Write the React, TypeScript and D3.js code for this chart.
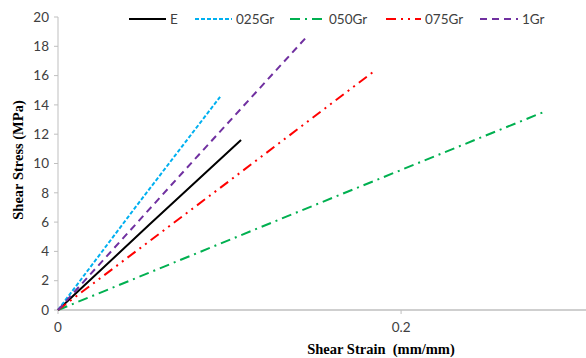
import React, { useEffect, useRef } from "react";
import * as d3 from "d3";

// series values: [strain, stress]
const seriesNames = ["E", "025Gr", "050Gr", "075Gr", "1Gr"];
const eData: [number, number][] = [[0, 0], [0.053, 5.8], [0.1067, 11.6]];
const gr025Data: [number, number][] = [[0, 0], [0.047, 7.3], [0.0945, 14.55]];
const gr050Data: [number, number][] = [[0, 0], [0.141, 6.75], [0.2828, 13.5]];
const gr075Data: [number, number][] = [[0, 0], [0.093, 8.2], [0.1854, 16.4]];
const gr1Data: [number, number][] = [[0, 0], [0.072, 9.3], [0.1446, 18.6]];
const yTicks = [0, 2, 4, 6, 8, 10, 12, 14, 16, 18, 20];
const xTicks = [0, 0.2];

const colors = ["#000000", "#00b0f0", "#00b050", "#ff0000", "#7030a0"];
const dashes = ["none", "4,2", "10,5,2,5", "10,5,2,5,2,5", "7,5"];

function App() {
  const ref = useRef<SVGSVGElement>(null);

  useEffect(() => {
    const svg = d3.select(ref.current);
    svg.selectAll("*").remove();
    const width = 586;
    const height = 358;
    const margin = { top: 17, right: 0, bottom: 48, left: 58 };

    const x = d3.scaleLinear().domain([0, 0.3078]).range([margin.left, 586]);
    const y = d3.scaleLinear().domain([0, 20]).range([height - margin.bottom, margin.top]);

    const tickFont = "Lato, 'Open Sans', sans-serif";
    const titleFont = "'Liberation Serif', 'Times New Roman', serif";
    const axisColor = "#bfbfbf";

    // y axis
    svg.append("line")
      .attr("x1", x(0)).attr("x2", x(0))
      .attr("y1", y(0)).attr("y2", y(20))
      .attr("stroke", axisColor).attr("stroke-width", 1);
    svg.selectAll(".ytick")
      .data(yTicks)
      .enter()
      .append("line")
      .attr("x1", x(0) - 4).attr("x2", x(0))
      .attr("y1", (d) => y(d)).attr("y2", (d) => y(d))
      .attr("stroke", axisColor);
    svg.selectAll(".ylab")
      .data(yTicks)
      .enter()
      .append("text")
      .attr("x", x(0) - 9)
      .attr("y", (d) => y(d))
      .attr("dy", "0.35em")
      .attr("text-anchor", "end")
      .attr("font-family", tickFont)
      .attr("font-size", 13.5)
      .attr("fill", "#404040")
      .text((d) => d);

    // x axis
    svg.append("line")
      .attr("x1", x(0)).attr("x2", width)
      .attr("y1", y(0)).attr("y2", y(0))
      .attr("stroke", axisColor).attr("stroke-width", 1.5);
    svg.selectAll(".xtick")
      .data(xTicks)
      .enter()
      .append("line")
      .attr("x1", (d) => x(d)).attr("x2", (d) => x(d))
      .attr("y1", y(0)).attr("y2", y(0) + 4)
      .attr("stroke", axisColor);
    svg.selectAll(".xlab")
      .data(xTicks)
      .enter()
      .append("text")
      .attr("x", (d) => x(d))
      .attr("y", y(0) + 22)
      .attr("text-anchor", "middle")
      .attr("font-family", tickFont)
      .attr("font-size", 13.5)
      .attr("fill", "#404040")
      .text((d) => (d === 0 ? "0" : String(d)));

    // axis titles
    svg.append("text")
      .attr("x", 381).attr("y", 354)
      .attr("text-anchor", "middle")
      .attr("font-family", titleFont)
      .attr("font-weight", "bold")
      .attr("font-size", 14.5)
      .attr("fill", "#000")
      .attr("xml:space", "preserve")
      .text("Shear Strain  (mm/mm)");
    svg.append("text")
      .attr("transform", "translate(23,160) rotate(-90)")
      .attr("text-anchor", "middle")
      .attr("font-family", titleFont)
      .attr("font-weight", "bold")
      .attr("font-size", 14.5)
      .attr("fill", "#000")
      .text("Shear Stress (MPa)");

    // lines
    const line = d3.line<[number, number]>()
      .x((d) => x(d[0]))
      .y((d) => y(d[1]));
    const all = [eData, gr025Data, gr050Data, gr075Data, gr1Data];
    svg.selectAll(".series")
      .data(all)
      .enter()
      .append("path")
      .attr("fill", "none")
      .attr("stroke", (d, i) => colors[i])
      .attr("stroke-width", 2)
      .attr("stroke-dasharray", (d, i) => dashes[i])
      .attr("d", (d) => line(d));

    // legend
    const legendX = [129, 195, 290, 386, 480];
    const legendW = [37, 37, 35, 35, 38];
    const lg = svg.selectAll(".legend")
      .data(seriesNames)
      .enter()
      .append("g")
      .attr("transform", (d, i) => `translate(${legendX[i]},19)`);
    lg.append("line")
      .attr("x1", 0).attr("x2", (d, i) => legendW[i])
      .attr("y1", 0).attr("y2", 0)
      .attr("stroke", (d, i) => colors[i])
      .attr("stroke-width", 2)
      .attr("stroke-dasharray", (d, i) => dashes[i]);
    lg.append("text")
      .attr("x", (d, i) => legendW[i] + 4)
      .attr("dy", "0.35em")
      .attr("font-family", tickFont)
      .attr("font-size", 13.5)
      .attr("fill", "#404040")
      .text((d) => d);
  }, []);

  return (
    <svg
      ref={ref}
      width={586}
      height={358}
      style={{ position: "absolute", left: 0, top: 0, background: "#fff" }}
    />
  );
}

export default App;
